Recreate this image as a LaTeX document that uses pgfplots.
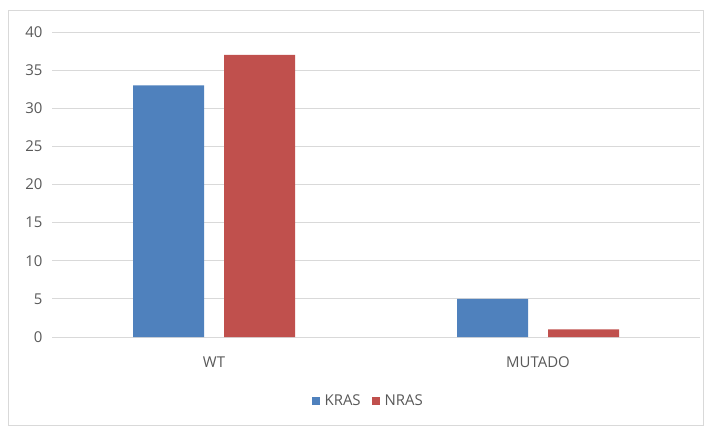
\documentclass[border=0pt]{standalone}
\usepackage{pgfplots}
\pgfplotsset{compat=1.18}
\usepackage{fontspec}
\setmainfont{Open Sans}
\definecolor{kras}{HTML}{4F81BD}
\definecolor{nras}{HTML}{C0504D}
\definecolor{txtgray}{HTML}{595959}
\definecolor{gridgray}{HTML}{D9D9D9}
\begin{document}
\begin{tikzpicture}[x=1bp,y=1bp]
\begin{axis}[
  at={(0,0)}, anchor=south west,
  scale only axis,
  width=648bp, height=305bp,
  xmin=-0.5, xmax=1.5,
  ymin=0, ymax=40,
  ytick={0,5,...,40},
  xtick={0,1},
  xticklabels={WT,MUTADO},
  ybar, bar width=71bp,
  axis line style={draw=none},
  major tick length=0pt,
  ymajorgrids, xmajorgrids=false,
  grid style={draw=gridgray, line width=0.9pt},
  tick label style={font=\fontsize{15}{18}\selectfont, text=txtgray},
  /pgf/number format/assume math mode=true,
  yticklabel style={anchor=east, xshift=-6bp},
  xticklabel style={anchor=center, yshift=-25bp},
  legend style={draw=none, at={(axis description cs:0.488,-0.21)}, anchor=center,
    legend columns=2, font=\fontsize{15}{18}\selectfont, text=txtgray,
    /tikz/every odd column/.append style={column sep=3bp},
    /tikz/every even column/.append style={column sep=9bp}},
  legend image code/.code={\fill[#1] (0bp,-4bp) rectangle (8bp,4bp);},
]
\addplot[fill=kras, draw=none, bar shift=-45.5bp] coordinates {(0,33) (1,5)};
\addplot[fill=nras, draw=none, bar shift=45.5bp] coordinates {(0,37) (1,1)};
\legend{KRAS,NRAS}
\end{axis}
\draw[gridgray, line width=0.9pt] (-44bp,-88bp) rectangle (651bp,327bp);
\path[use as bounding box] (-52bp,-90bp) rectangle (654bp,337bp);
\end{tikzpicture}
\end{document}
